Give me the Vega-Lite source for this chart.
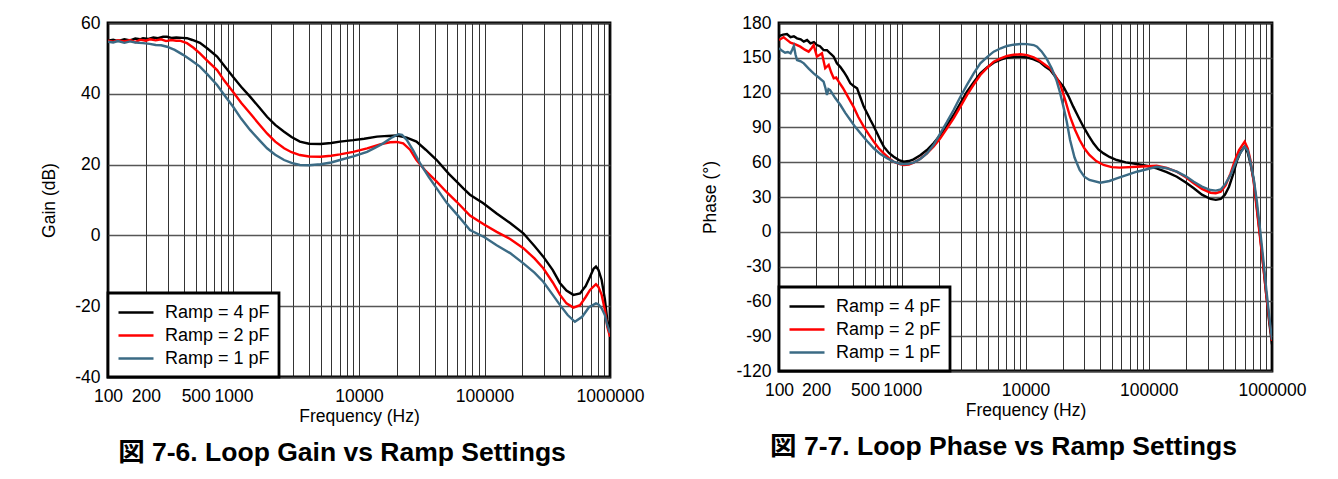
{
  "$schema": "https://vega.github.io/schema/vega-lite/v6.json",
  "background": "white",
  "padding": {"left": 39, "top": 12, "right": 0, "bottom": 0},
  "spacing": 54,
  "config": {
    "font": "Liberation Sans, Arial, Noto Sans CJK JP, sans-serif",
    "view": {"stroke": "black", "strokeWidth": 2.8},
    "axis": {
      "grid": true,
      "ticks": false,
      "domain": false,
      "labelFontSize": 17.5,
      "labelColor": "black",
      "titleFontSize": 17.5,
      "titleFontWeight": "normal",
      "titleColor": "black",
      "labelOverlap": false,
      "labelFlush": false
    },
    "axisX": {"gridColor": "#111111", "gridWidth": 1, "gridOpacity": 0.85, "labelPadding": 10, "titlePadding": 3},
    "axisY": {"gridColor": "#444444", "gridWidth": 1.3, "gridOpacity": 0.9, "labelPadding": 8, "titlePadding": 16},
    "legend": {
      "orient": "bottom-left",
      "offset": 0,
      "strokeColor": "black",
      "strokeWidth": 2.8,
      "fillColor": "white",
      "padding": 9,
      "labelFontSize": 18,
      "labelColor": "black",
      "symbolType": "M-1,0H2.889",
      "symbolSize": 324,
      "symbolStrokeWidth": 2.8,
      "labelOffset": 27,
      "rowPadding": 3
    },
    "line": {"strokeWidth": 2.4}
  },
  "datasets": {
    "gain": [
      {"f":100,"v":55.0,"s":"Ramp = 4 pF"},{"f":110,"v":55.3,"s":"Ramp = 4 pF"},{"f":120,"v":54.9,"s":"Ramp = 4 pF"},{"f":135,"v":55.4,"s":"Ramp = 4 pF"},{"f":150,"v":55.1,"s":"Ramp = 4 pF"},{"f":165,"v":55.6,"s":"Ramp = 4 pF"},{"f":180,"v":55.4,"s":"Ramp = 4 pF"},{"f":190,"v":55.7,"s":"Ramp = 4 pF"},{"f":210,"v":55.5,"s":"Ramp = 4 pF"},{"f":230,"v":55.9,"s":"Ramp = 4 pF"},{"f":250,"v":55.7,"s":"Ramp = 4 pF"},{"f":275,"v":56.1,"s":"Ramp = 4 pF"},{"f":295,"v":56.1,"s":"Ramp = 4 pF"},{"f":320,"v":55.8,"s":"Ramp = 4 pF"},{"f":350,"v":55.9,"s":"Ramp = 4 pF"},{"f":390,"v":55.8,"s":"Ramp = 4 pF"},{"f":426,"v":55.7,"s":"Ramp = 4 pF"},{"f":470,"v":55.2,"s":"Ramp = 4 pF"},{"f":540,"v":54.4,"s":"Ramp = 4 pF"},{"f":620,"v":52.8,"s":"Ramp = 4 pF"},{"f":740,"v":50.5,"s":"Ramp = 4 pF"},{"f":850,"v":47.8,"s":"Ramp = 4 pF"},{"f":990,"v":44.8,"s":"Ramp = 4 pF"},{"f":1150,"v":42.0,"s":"Ramp = 4 pF"},{"f":1355,"v":39.2,"s":"Ramp = 4 pF"},{"f":1600,"v":36.2,"s":"Ramp = 4 pF"},{"f":1850,"v":33.5,"s":"Ramp = 4 pF"},{"f":2150,"v":31.2,"s":"Ramp = 4 pF"},{"f":2530,"v":29.3,"s":"Ramp = 4 pF"},{"f":2900,"v":27.8,"s":"Ramp = 4 pF"},{"f":3380,"v":26.5,"s":"Ramp = 4 pF"},{"f":4000,"v":25.9,"s":"Ramp = 4 pF"},{"f":4940,"v":25.8,"s":"Ramp = 4 pF"},{"f":6000,"v":26.1,"s":"Ramp = 4 pF"},{"f":7050,"v":26.5,"s":"Ramp = 4 pF"},{"f":9000,"v":26.9,"s":"Ramp = 4 pF"},{"f":11000,"v":27.3,"s":"Ramp = 4 pF"},{"f":13900,"v":27.9,"s":"Ramp = 4 pF"},{"f":17000,"v":28.1,"s":"Ramp = 4 pF"},{"f":20000,"v":28.2,"s":"Ramp = 4 pF"},{"f":24000,"v":27.6,"s":"Ramp = 4 pF"},{"f":28700,"v":26.5,"s":"Ramp = 4 pF"},{"f":34000,"v":24.2,"s":"Ramp = 4 pF"},{"f":41600,"v":21.3,"s":"Ramp = 4 pF"},{"f":52000,"v":17.4,"s":"Ramp = 4 pF"},{"f":60000,"v":15.2,"s":"Ramp = 4 pF"},{"f":67800,"v":13.3,"s":"Ramp = 4 pF"},{"f":76600,"v":11.5,"s":"Ramp = 4 pF"},{"f":97800,"v":9.1,"s":"Ramp = 4 pF"},{"f":125000,"v":6.2,"s":"Ramp = 4 pF"},{"f":160000,"v":3.5,"s":"Ramp = 4 pF"},{"f":204000,"v":0.6,"s":"Ramp = 4 pF"},{"f":250000,"v":-3.0,"s":"Ramp = 4 pF"},{"f":294000,"v":-6.0,"s":"Ramp = 4 pF"},{"f":350000,"v":-9.8,"s":"Ramp = 4 pF"},{"f":400000,"v":-13.5,"s":"Ramp = 4 pF"},{"f":450000,"v":-15.6,"s":"Ramp = 4 pF"},{"f":511000,"v":-16.8,"s":"Ramp = 4 pF"},{"f":577000,"v":-16.4,"s":"Ramp = 4 pF"},{"f":640000,"v":-14.3,"s":"Ramp = 4 pF"},{"f":693000,"v":-11.7,"s":"Ramp = 4 pF"},{"f":740000,"v":-9.4,"s":"Ramp = 4 pF"},{"f":773000,"v":-8.8,"s":"Ramp = 4 pF"},{"f":810000,"v":-9.8,"s":"Ramp = 4 pF"},{"f":858000,"v":-12.6,"s":"Ramp = 4 pF"},{"f":910000,"v":-18.0,"s":"Ramp = 4 pF"},{"f":951000,"v":-23.9,"s":"Ramp = 4 pF"},{"f":1000000,"v":-27.6,"s":"Ramp = 4 pF"},
      {"f":100,"v":55.0,"s":"Ramp = 2 pF"},{"f":110,"v":54.7,"s":"Ramp = 2 pF"},{"f":120,"v":55.1,"s":"Ramp = 2 pF"},{"f":135,"v":54.8,"s":"Ramp = 2 pF"},{"f":150,"v":55.2,"s":"Ramp = 2 pF"},{"f":165,"v":54.6,"s":"Ramp = 2 pF"},{"f":180,"v":55.3,"s":"Ramp = 2 pF"},{"f":200,"v":55.0,"s":"Ramp = 2 pF"},{"f":216,"v":55.4,"s":"Ramp = 2 pF"},{"f":240,"v":55.1,"s":"Ramp = 2 pF"},{"f":265,"v":55.4,"s":"Ramp = 2 pF"},{"f":290,"v":54.9,"s":"Ramp = 2 pF"},{"f":320,"v":55.2,"s":"Ramp = 2 pF"},{"f":350,"v":55.0,"s":"Ramp = 2 pF"},{"f":374,"v":55.0,"s":"Ramp = 2 pF"},{"f":426,"v":54.3,"s":"Ramp = 2 pF"},{"f":480,"v":53.0,"s":"Ramp = 2 pF"},{"f":540,"v":51.4,"s":"Ramp = 2 pF"},{"f":620,"v":49.3,"s":"Ramp = 2 pF"},{"f":740,"v":46.7,"s":"Ramp = 2 pF"},{"f":850,"v":43.6,"s":"Ramp = 2 pF"},{"f":990,"v":40.6,"s":"Ramp = 2 pF"},{"f":1150,"v":37.5,"s":"Ramp = 2 pF"},{"f":1355,"v":34.5,"s":"Ramp = 2 pF"},{"f":1600,"v":31.4,"s":"Ramp = 2 pF"},{"f":1850,"v":28.8,"s":"Ramp = 2 pF"},{"f":2150,"v":26.5,"s":"Ramp = 2 pF"},{"f":2530,"v":24.6,"s":"Ramp = 2 pF"},{"f":2900,"v":23.5,"s":"Ramp = 2 pF"},{"f":3380,"v":22.7,"s":"Ramp = 2 pF"},{"f":4000,"v":22.3,"s":"Ramp = 2 pF"},{"f":4940,"v":22.2,"s":"Ramp = 2 pF"},{"f":6000,"v":22.5,"s":"Ramp = 2 pF"},{"f":7050,"v":22.9,"s":"Ramp = 2 pF"},{"f":9000,"v":23.6,"s":"Ramp = 2 pF"},{"f":11600,"v":24.6,"s":"Ramp = 2 pF"},{"f":14700,"v":25.7,"s":"Ramp = 2 pF"},{"f":17700,"v":26.3,"s":"Ramp = 2 pF"},{"f":20000,"v":26.4,"s":"Ramp = 2 pF"},{"f":22500,"v":26.0,"s":"Ramp = 2 pF"},{"f":25500,"v":24.2,"s":"Ramp = 2 pF"},{"f":28700,"v":21.3,"s":"Ramp = 2 pF"},{"f":34000,"v":18.2,"s":"Ramp = 2 pF"},{"f":41600,"v":15.2,"s":"Ramp = 2 pF"},{"f":50000,"v":12.2,"s":"Ramp = 2 pF"},{"f":60000,"v":9.5,"s":"Ramp = 2 pF"},{"f":76600,"v":5.6,"s":"Ramp = 2 pF"},{"f":100000,"v":3.0,"s":"Ramp = 2 pF"},{"f":125000,"v":1.0,"s":"Ramp = 2 pF"},{"f":160000,"v":-1.0,"s":"Ramp = 2 pF"},{"f":204000,"v":-3.6,"s":"Ramp = 2 pF"},{"f":250000,"v":-6.5,"s":"Ramp = 2 pF"},{"f":294000,"v":-9.3,"s":"Ramp = 2 pF"},{"f":350000,"v":-13.3,"s":"Ramp = 2 pF"},{"f":400000,"v":-16.8,"s":"Ramp = 2 pF"},{"f":450000,"v":-19.2,"s":"Ramp = 2 pF"},{"f":511000,"v":-20.4,"s":"Ramp = 2 pF"},{"f":577000,"v":-19.7,"s":"Ramp = 2 pF"},{"f":640000,"v":-17.4,"s":"Ramp = 2 pF"},{"f":693000,"v":-15.4,"s":"Ramp = 2 pF"},{"f":773000,"v":-13.8,"s":"Ramp = 2 pF"},{"f":810000,"v":-14.6,"s":"Ramp = 2 pF"},{"f":858000,"v":-16.8,"s":"Ramp = 2 pF"},{"f":910000,"v":-21.0,"s":"Ramp = 2 pF"},{"f":951000,"v":-25.8,"s":"Ramp = 2 pF"},{"f":1000000,"v":-28.6,"s":"Ramp = 2 pF"},
      {"f":100,"v":54.7,"s":"Ramp = 1 pF"},{"f":110,"v":54.5,"s":"Ramp = 1 pF"},{"f":120,"v":54.9,"s":"Ramp = 1 pF"},{"f":135,"v":54.4,"s":"Ramp = 1 pF"},{"f":150,"v":54.8,"s":"Ramp = 1 pF"},{"f":165,"v":54.5,"s":"Ramp = 1 pF"},{"f":190,"v":54.3,"s":"Ramp = 1 pF"},{"f":215,"v":54.1,"s":"Ramp = 1 pF"},{"f":240,"v":53.8,"s":"Ramp = 1 pF"},{"f":265,"v":53.7,"s":"Ramp = 1 pF"},{"f":295,"v":53.3,"s":"Ramp = 1 pF"},{"f":340,"v":52.4,"s":"Ramp = 1 pF"},{"f":397,"v":51.0,"s":"Ramp = 1 pF"},{"f":460,"v":49.5,"s":"Ramp = 1 pF"},{"f":540,"v":47.7,"s":"Ramp = 1 pF"},{"f":620,"v":45.5,"s":"Ramp = 1 pF"},{"f":740,"v":42.5,"s":"Ramp = 1 pF"},{"f":850,"v":39.5,"s":"Ramp = 1 pF"},{"f":990,"v":36.4,"s":"Ramp = 1 pF"},{"f":1150,"v":33.0,"s":"Ramp = 1 pF"},{"f":1355,"v":29.8,"s":"Ramp = 1 pF"},{"f":1600,"v":27.0,"s":"Ramp = 1 pF"},{"f":1850,"v":24.6,"s":"Ramp = 1 pF"},{"f":2150,"v":22.8,"s":"Ramp = 1 pF"},{"f":2530,"v":21.3,"s":"Ramp = 1 pF"},{"f":2900,"v":20.5,"s":"Ramp = 1 pF"},{"f":3380,"v":19.9,"s":"Ramp = 1 pF"},{"f":4000,"v":19.8,"s":"Ramp = 1 pF"},{"f":4940,"v":20.1,"s":"Ramp = 1 pF"},{"f":6000,"v":20.6,"s":"Ramp = 1 pF"},{"f":7050,"v":21.3,"s":"Ramp = 1 pF"},{"f":9000,"v":22.3,"s":"Ramp = 1 pF"},{"f":11600,"v":23.6,"s":"Ramp = 1 pF"},{"f":13500,"v":24.8,"s":"Ramp = 1 pF"},{"f":15600,"v":26.0,"s":"Ramp = 1 pF"},{"f":18000,"v":27.5,"s":"Ramp = 1 pF"},{"f":20600,"v":28.6,"s":"Ramp = 1 pF"},{"f":22000,"v":28.4,"s":"Ramp = 1 pF"},{"f":24000,"v":27.0,"s":"Ramp = 1 pF"},{"f":27000,"v":24.0,"s":"Ramp = 1 pF"},{"f":30600,"v":20.4,"s":"Ramp = 1 pF"},{"f":36000,"v":16.5,"s":"Ramp = 1 pF"},{"f":41600,"v":13.3,"s":"Ramp = 1 pF"},{"f":50000,"v":9.2,"s":"Ramp = 1 pF"},{"f":60000,"v":6.0,"s":"Ramp = 1 pF"},{"f":67800,"v":3.8,"s":"Ramp = 1 pF"},{"f":76600,"v":1.5,"s":"Ramp = 1 pF"},{"f":100000,"v":-0.5,"s":"Ramp = 1 pF"},{"f":125000,"v":-2.8,"s":"Ramp = 1 pF"},{"f":160000,"v":-5.0,"s":"Ramp = 1 pF"},{"f":204000,"v":-7.9,"s":"Ramp = 1 pF"},{"f":250000,"v":-10.5,"s":"Ramp = 1 pF"},{"f":294000,"v":-13.1,"s":"Ramp = 1 pF"},{"f":350000,"v":-16.8,"s":"Ramp = 1 pF"},{"f":400000,"v":-19.7,"s":"Ramp = 1 pF"},{"f":460000,"v":-22.5,"s":"Ramp = 1 pF"},{"f":525000,"v":-24.4,"s":"Ramp = 1 pF"},{"f":600000,"v":-23.0,"s":"Ramp = 1 pF"},{"f":680000,"v":-20.3,"s":"Ramp = 1 pF"},{"f":773000,"v":-19.2,"s":"Ramp = 1 pF"},{"f":810000,"v":-19.5,"s":"Ramp = 1 pF"},{"f":858000,"v":-20.6,"s":"Ramp = 1 pF"},{"f":910000,"v":-22.5,"s":"Ramp = 1 pF"},{"f":951000,"v":-25.3,"s":"Ramp = 1 pF"},{"f":1000000,"v":-27.6,"s":"Ramp = 1 pF"}
    ],
    "phase": [
      {"f":100,"v":168.8,"s":"Ramp = 4 pF"},{"f":108,"v":170.0,"s":"Ramp = 4 pF"},{"f":116,"v":170.5,"s":"Ramp = 4 pF"},{"f":124,"v":167.8,"s":"Ramp = 4 pF"},{"f":132,"v":168.5,"s":"Ramp = 4 pF"},{"f":140,"v":166.8,"s":"Ramp = 4 pF"},{"f":150,"v":166.0,"s":"Ramp = 4 pF"},{"f":159,"v":163.9,"s":"Ramp = 4 pF"},{"f":169,"v":165.3,"s":"Ramp = 4 pF"},{"f":180,"v":162.5,"s":"Ramp = 4 pF"},{"f":192,"v":163.5,"s":"Ramp = 4 pF"},{"f":203,"v":161.0,"s":"Ramp = 4 pF"},{"f":215,"v":160.0,"s":"Ramp = 4 pF"},{"f":230,"v":156.7,"s":"Ramp = 4 pF"},{"f":245,"v":156.5,"s":"Ramp = 4 pF"},{"f":262,"v":153.5,"s":"Ramp = 4 pF"},{"f":278,"v":151.0,"s":"Ramp = 4 pF"},{"f":295,"v":145.2,"s":"Ramp = 4 pF"},{"f":315,"v":142.0,"s":"Ramp = 4 pF"},{"f":335,"v":138.0,"s":"Ramp = 4 pF"},{"f":356,"v":133.5,"s":"Ramp = 4 pF"},{"f":379,"v":128.0,"s":"Ramp = 4 pF"},{"f":405,"v":125.5,"s":"Ramp = 4 pF"},{"f":430,"v":123.7,"s":"Ramp = 4 pF"},{"f":457,"v":116.0,"s":"Ramp = 4 pF"},{"f":487,"v":107.9,"s":"Ramp = 4 pF"},{"f":520,"v":102.0,"s":"Ramp = 4 pF"},{"f":552,"v":96.4,"s":"Ramp = 4 pF"},{"f":587,"v":91.0,"s":"Ramp = 4 pF"},{"f":625,"v":84.9,"s":"Ramp = 4 pF"},{"f":665,"v":79.0,"s":"Ramp = 4 pF"},{"f":708,"v":73.4,"s":"Ramp = 4 pF"},{"f":780,"v":68.0,"s":"Ramp = 4 pF"},{"f":852,"v":64.7,"s":"Ramp = 4 pF"},{"f":940,"v":61.8,"s":"Ramp = 4 pF"},{"f":1028,"v":60.4,"s":"Ramp = 4 pF"},{"f":1130,"v":61.0,"s":"Ramp = 4 pF"},{"f":1236,"v":62.5,"s":"Ramp = 4 pF"},{"f":1400,"v":66.0,"s":"Ramp = 4 pF"},{"f":1586,"v":70.5,"s":"Ramp = 4 pF"},{"f":1800,"v":76.5,"s":"Ramp = 4 pF"},{"f":2035,"v":83.4,"s":"Ramp = 4 pF"},{"f":2300,"v":91.5,"s":"Ramp = 4 pF"},{"f":2610,"v":100.7,"s":"Ramp = 4 pF"},{"f":2950,"v":110.5,"s":"Ramp = 4 pF"},{"f":3350,"v":120.8,"s":"Ramp = 4 pF"},{"f":3800,"v":129.0,"s":"Ramp = 4 pF"},{"f":4300,"v":136.6,"s":"Ramp = 4 pF"},{"f":4900,"v":141.8,"s":"Ramp = 4 pF"},{"f":5520,"v":145.8,"s":"Ramp = 4 pF"},{"f":6300,"v":148.5,"s":"Ramp = 4 pF"},{"f":7080,"v":150.1,"s":"Ramp = 4 pF"},{"f":8000,"v":150.7,"s":"Ramp = 4 pF"},{"f":9080,"v":151.0,"s":"Ramp = 4 pF"},{"f":10300,"v":150.3,"s":"Ramp = 4 pF"},{"f":11650,"v":148.7,"s":"Ramp = 4 pF"},{"f":13000,"v":146.5,"s":"Ramp = 4 pF"},{"f":14500,"v":142.3,"s":"Ramp = 4 pF"},{"f":15870,"v":139.5,"s":"Ramp = 4 pF"},{"f":18000,"v":132.0,"s":"Ramp = 4 pF"},{"f":20300,"v":125.1,"s":"Ramp = 4 pF"},{"f":22300,"v":117.0,"s":"Ramp = 4 pF"},{"f":24400,"v":107.9,"s":"Ramp = 4 pF"},{"f":27000,"v":98.5,"s":"Ramp = 4 pF"},{"f":29500,"v":90.6,"s":"Ramp = 4 pF"},{"f":32500,"v":83.0,"s":"Ramp = 4 pF"},{"f":35600,"v":76.3,"s":"Ramp = 4 pF"},{"f":39000,"v":71.0,"s":"Ramp = 4 pF"},{"f":43000,"v":67.6,"s":"Ramp = 4 pF"},{"f":48000,"v":64.5,"s":"Ramp = 4 pF"},{"f":55000,"v":61.9,"s":"Ramp = 4 pF"},{"f":65000,"v":59.8,"s":"Ramp = 4 pF"},{"f":80000,"v":58.4,"s":"Ramp = 4 pF"},{"f":100000,"v":56.5,"s":"Ramp = 4 pF"},{"f":116000,"v":54.7,"s":"Ramp = 4 pF"},{"f":140000,"v":51.5,"s":"Ramp = 4 pF"},{"f":169000,"v":47.5,"s":"Ramp = 4 pF"},{"f":200000,"v":42.5,"s":"Ramp = 4 pF"},{"f":232000,"v":37.5,"s":"Ramp = 4 pF"},{"f":270000,"v":32.0,"s":"Ramp = 4 pF"},{"f":317000,"v":28.3,"s":"Ramp = 4 pF"},{"f":350000,"v":27.5,"s":"Ramp = 4 pF"},{"f":384000,"v":28.3,"s":"Ramp = 4 pF"},{"f":415000,"v":32.0,"s":"Ramp = 4 pF"},{"f":448000,"v":38.9,"s":"Ramp = 4 pF"},{"f":485000,"v":50.0,"s":"Ramp = 4 pF"},{"f":522000,"v":61.9,"s":"Ramp = 4 pF"},{"f":560000,"v":69.5,"s":"Ramp = 4 pF"},{"f":600000,"v":73.4,"s":"Ramp = 4 pF"},{"f":635000,"v":68.5,"s":"Ramp = 4 pF"},{"f":668000,"v":59.0,"s":"Ramp = 4 pF"},{"f":710000,"v":44.7,"s":"Ramp = 4 pF"},{"f":755000,"v":20.5,"s":"Ramp = 4 pF"},{"f":800000,"v":-3.0,"s":"Ramp = 4 pF"},{"f":850000,"v":-29.0,"s":"Ramp = 4 pF"},{"f":900000,"v":-55.0,"s":"Ramp = 4 pF"},{"f":950000,"v":-78.0,"s":"Ramp = 4 pF"},{"f":1000000,"v":-97.0,"s":"Ramp = 4 pF"},
      {"f":100,"v":165.3,"s":"Ramp = 2 pF"},{"f":109,"v":167.7,"s":"Ramp = 2 pF"},{"f":116,"v":165.5,"s":"Ramp = 2 pF"},{"f":124,"v":163.0,"s":"Ramp = 2 pF"},{"f":136,"v":161.5,"s":"Ramp = 2 pF"},{"f":149,"v":159.6,"s":"Ramp = 2 pF"},{"f":162,"v":157.0,"s":"Ramp = 2 pF"},{"f":174,"v":155.3,"s":"Ramp = 2 pF"},{"f":183,"v":158.0,"s":"Ramp = 2 pF"},{"f":191,"v":161.0,"s":"Ramp = 2 pF"},{"f":203,"v":151.0,"s":"Ramp = 2 pF"},{"f":213,"v":152.5,"s":"Ramp = 2 pF"},{"f":223,"v":153.9,"s":"Ramp = 2 pF"},{"f":237,"v":141.0,"s":"Ramp = 2 pF"},{"f":253,"v":143.9,"s":"Ramp = 2 pF"},{"f":265,"v":137.5,"s":"Ramp = 2 pF"},{"f":278,"v":132.3,"s":"Ramp = 2 pF"},{"f":291,"v":133.0,"s":"Ramp = 2 pF"},{"f":305,"v":129.4,"s":"Ramp = 2 pF"},{"f":330,"v":124.0,"s":"Ramp = 2 pF"},{"f":356,"v":117.9,"s":"Ramp = 2 pF"},{"f":380,"v":112.5,"s":"Ramp = 2 pF"},{"f":402,"v":107.9,"s":"Ramp = 2 pF"},{"f":440,"v":99.0,"s":"Ramp = 2 pF"},{"f":487,"v":90.6,"s":"Ramp = 2 pF"},{"f":535,"v":84.0,"s":"Ramp = 2 pF"},{"f":587,"v":77.7,"s":"Ramp = 2 pF"},{"f":645,"v":72.0,"s":"Ramp = 2 pF"},{"f":708,"v":67.6,"s":"Ramp = 2 pF"},{"f":780,"v":63.5,"s":"Ramp = 2 pF"},{"f":852,"v":60.4,"s":"Ramp = 2 pF"},{"f":940,"v":58.5,"s":"Ramp = 2 pF"},{"f":1028,"v":57.6,"s":"Ramp = 2 pF"},{"f":1130,"v":58.0,"s":"Ramp = 2 pF"},{"f":1236,"v":59.6,"s":"Ramp = 2 pF"},{"f":1400,"v":63.0,"s":"Ramp = 2 pF"},{"f":1586,"v":67.6,"s":"Ramp = 2 pF"},{"f":1800,"v":73.5,"s":"Ramp = 2 pF"},{"f":2035,"v":80.6,"s":"Ramp = 2 pF"},{"f":2300,"v":89.0,"s":"Ramp = 2 pF"},{"f":2610,"v":97.8,"s":"Ramp = 2 pF"},{"f":2950,"v":107.5,"s":"Ramp = 2 pF"},{"f":3350,"v":117.9,"s":"Ramp = 2 pF"},{"f":3800,"v":127.0,"s":"Ramp = 2 pF"},{"f":4300,"v":135.2,"s":"Ramp = 2 pF"},{"f":4900,"v":141.5,"s":"Ramp = 2 pF"},{"f":5520,"v":146.6,"s":"Ramp = 2 pF"},{"f":6300,"v":149.5,"s":"Ramp = 2 pF"},{"f":7080,"v":151.6,"s":"Ramp = 2 pF"},{"f":8000,"v":152.6,"s":"Ramp = 2 pF"},{"f":9080,"v":153.0,"s":"Ramp = 2 pF"},{"f":10300,"v":152.3,"s":"Ramp = 2 pF"},{"f":11650,"v":150.4,"s":"Ramp = 2 pF"},{"f":13000,"v":147.5,"s":"Ramp = 2 pF"},{"f":14500,"v":143.8,"s":"Ramp = 2 pF"},{"f":15870,"v":140.9,"s":"Ramp = 2 pF"},{"f":17500,"v":134.5,"s":"Ramp = 2 pF"},{"f":19200,"v":126.6,"s":"Ramp = 2 pF"},{"f":21000,"v":113.5,"s":"Ramp = 2 pF"},{"f":23000,"v":99.2,"s":"Ramp = 2 pF"},{"f":25200,"v":88.0,"s":"Ramp = 2 pF"},{"f":27500,"v":79.1,"s":"Ramp = 2 pF"},{"f":30000,"v":72.0,"s":"Ramp = 2 pF"},{"f":33000,"v":66.2,"s":"Ramp = 2 pF"},{"f":37500,"v":61.0,"s":"Ramp = 2 pF"},{"f":43000,"v":57.6,"s":"Ramp = 2 pF"},{"f":50000,"v":55.8,"s":"Ramp = 2 pF"},{"f":58000,"v":55.3,"s":"Ramp = 2 pF"},{"f":80000,"v":56.1,"s":"Ramp = 2 pF"},{"f":116000,"v":57.0,"s":"Ramp = 2 pF"},{"f":140000,"v":55.0,"s":"Ramp = 2 pF"},{"f":169000,"v":51.8,"s":"Ramp = 2 pF"},{"f":200000,"v":47.0,"s":"Ramp = 2 pF"},{"f":232000,"v":41.8,"s":"Ramp = 2 pF"},{"f":270000,"v":37.0,"s":"Ramp = 2 pF"},{"f":317000,"v":33.7,"s":"Ramp = 2 pF"},{"f":350000,"v":33.3,"s":"Ramp = 2 pF"},{"f":384000,"v":34.5,"s":"Ramp = 2 pF"},{"f":420000,"v":40.0,"s":"Ramp = 2 pF"},{"f":461000,"v":50.4,"s":"Ramp = 2 pF"},{"f":500000,"v":61.5,"s":"Ramp = 2 pF"},{"f":540000,"v":70.5,"s":"Ramp = 2 pF"},{"f":600000,"v":77.7,"s":"Ramp = 2 pF"},{"f":635000,"v":72.0,"s":"Ramp = 2 pF"},{"f":668000,"v":61.9,"s":"Ramp = 2 pF"},{"f":710000,"v":43.0,"s":"Ramp = 2 pF"},{"f":754000,"v":18.8,"s":"Ramp = 2 pF"},{"f":800000,"v":-5.0,"s":"Ramp = 2 pF"},{"f":850000,"v":-30.0,"s":"Ramp = 2 pF"},{"f":900000,"v":-55.0,"s":"Ramp = 2 pF"},{"f":950000,"v":-76.0,"s":"Ramp = 2 pF"},{"f":1000000,"v":-94.0,"s":"Ramp = 2 pF"},
      {"f":100,"v":158.2,"s":"Ramp = 1 pF"},{"f":106,"v":156.0,"s":"Ramp = 1 pF"},{"f":112,"v":154.4,"s":"Ramp = 1 pF"},{"f":118,"v":155.0,"s":"Ramp = 1 pF"},{"f":124,"v":153.9,"s":"Ramp = 1 pF"},{"f":128,"v":157.0,"s":"Ramp = 1 pF"},{"f":132,"v":160.2,"s":"Ramp = 1 pF"},{"f":136,"v":153.0,"s":"Ramp = 1 pF"},{"f":140,"v":148.1,"s":"Ramp = 1 pF"},{"f":150,"v":147.0,"s":"Ramp = 1 pF"},{"f":159,"v":145.2,"s":"Ramp = 1 pF"},{"f":175,"v":140.5,"s":"Ramp = 1 pF"},{"f":191,"v":136.6,"s":"Ramp = 1 pF"},{"f":210,"v":133.0,"s":"Ramp = 1 pF"},{"f":230,"v":129.4,"s":"Ramp = 1 pF"},{"f":238,"v":124.0,"s":"Ramp = 1 pF"},{"f":245,"v":117.9,"s":"Ramp = 1 pF"},{"f":252,"v":123.0,"s":"Ramp = 1 pF"},{"f":260,"v":122.2,"s":"Ramp = 1 pF"},{"f":285,"v":115.5,"s":"Ramp = 1 pF"},{"f":315,"v":109.3,"s":"Ramp = 1 pF"},{"f":345,"v":102.5,"s":"Ramp = 1 pF"},{"f":379,"v":96.4,"s":"Ramp = 1 pF"},{"f":415,"v":90.5,"s":"Ramp = 1 pF"},{"f":458,"v":84.9,"s":"Ramp = 1 pF"},{"f":520,"v":78.0,"s":"Ramp = 1 pF"},{"f":587,"v":72.0,"s":"Ramp = 1 pF"},{"f":665,"v":67.0,"s":"Ramp = 1 pF"},{"f":752,"v":63.4,"s":"Ramp = 1 pF"},{"f":850,"v":60.5,"s":"Ramp = 1 pF"},{"f":965,"v":58.4,"s":"Ramp = 1 pF"},{"f":1100,"v":58.4,"s":"Ramp = 1 pF"},{"f":1236,"v":59.6,"s":"Ramp = 1 pF"},{"f":1400,"v":62.8,"s":"Ramp = 1 pF"},{"f":1586,"v":67.6,"s":"Ramp = 1 pF"},{"f":1800,"v":75.0,"s":"Ramp = 1 pF"},{"f":2035,"v":84.9,"s":"Ramp = 1 pF"},{"f":2300,"v":94.5,"s":"Ramp = 1 pF"},{"f":2610,"v":105.0,"s":"Ramp = 1 pF"},{"f":2950,"v":116.0,"s":"Ramp = 1 pF"},{"f":3350,"v":126.6,"s":"Ramp = 1 pF"},{"f":3800,"v":136.5,"s":"Ramp = 1 pF"},{"f":4300,"v":145.2,"s":"Ramp = 1 pF"},{"f":4900,"v":150.8,"s":"Ramp = 1 pF"},{"f":5520,"v":155.3,"s":"Ramp = 1 pF"},{"f":6300,"v":158.2,"s":"Ramp = 1 pF"},{"f":7080,"v":160.2,"s":"Ramp = 1 pF"},{"f":8000,"v":161.3,"s":"Ramp = 1 pF"},{"f":9080,"v":161.9,"s":"Ramp = 1 pF"},{"f":10300,"v":161.8,"s":"Ramp = 1 pF"},{"f":11650,"v":161.0,"s":"Ramp = 1 pF"},{"f":12400,"v":159.6,"s":"Ramp = 1 pF"},{"f":13500,"v":155.5,"s":"Ramp = 1 pF"},{"f":14800,"v":149.5,"s":"Ramp = 1 pF"},{"f":16300,"v":141.0,"s":"Ramp = 1 pF"},{"f":17800,"v":130.9,"s":"Ramp = 1 pF"},{"f":19000,"v":120.5,"s":"Ramp = 1 pF"},{"f":20300,"v":107.9,"s":"Ramp = 1 pF"},{"f":21600,"v":95.0,"s":"Ramp = 1 pF"},{"f":23000,"v":79.1,"s":"Ramp = 1 pF"},{"f":25000,"v":64.0,"s":"Ramp = 1 pF"},{"f":27500,"v":53.3,"s":"Ramp = 1 pF"},{"f":30000,"v":47.5,"s":"Ramp = 1 pF"},{"f":33000,"v":44.7,"s":"Ramp = 1 pF"},{"f":40500,"v":42.3,"s":"Ramp = 1 pF"},{"f":48000,"v":43.8,"s":"Ramp = 1 pF"},{"f":55000,"v":46.1,"s":"Ramp = 1 pF"},{"f":80000,"v":51.8,"s":"Ramp = 1 pF"},{"f":116000,"v":56.1,"s":"Ramp = 1 pF"},{"f":140000,"v":54.8,"s":"Ramp = 1 pF"},{"f":169000,"v":51.8,"s":"Ramp = 1 pF"},{"f":200000,"v":47.8,"s":"Ramp = 1 pF"},{"f":232000,"v":43.2,"s":"Ramp = 1 pF"},{"f":270000,"v":39.0,"s":"Ramp = 1 pF"},{"f":317000,"v":36.0,"s":"Ramp = 1 pF"},{"f":350000,"v":35.5,"s":"Ramp = 1 pF"},{"f":384000,"v":36.5,"s":"Ramp = 1 pF"},{"f":420000,"v":41.5,"s":"Ramp = 1 pF"},{"f":461000,"v":49.0,"s":"Ramp = 1 pF"},{"f":500000,"v":58.0,"s":"Ramp = 1 pF"},{"f":540000,"v":66.2,"s":"Ramp = 1 pF"},{"f":600000,"v":73.4,"s":"Ramp = 1 pF"},{"f":635000,"v":70.0,"s":"Ramp = 1 pF"},{"f":668000,"v":60.4,"s":"Ramp = 1 pF"},{"f":710000,"v":46.0,"s":"Ramp = 1 pF"},{"f":754000,"v":25.9,"s":"Ramp = 1 pF"},{"f":800000,"v":2.0,"s":"Ramp = 1 pF"},{"f":850000,"v":-24.0,"s":"Ramp = 1 pF"},{"f":900000,"v":-50.0,"s":"Ramp = 1 pF"},{"f":950000,"v":-73.0,"s":"Ramp = 1 pF"},{"f":1000000,"v":-93.0,"s":"Ramp = 1 pF"}
    ]
  },
  "hconcat": [
    {
      "width": 502,
      "height": 354,
      "data": {"name": "gain"},
      "title": {"text": "図 7-6. Loop Gain vs Ramp Settings", "orient": "bottom", "fontSize": 26.5, "fontWeight": "bold", "color": "black", "offset": 15, "dx": -17},
      "mark": {"type": "line", "clip": true},
      "encoding": {
        "x": {
          "field": "f", "type": "quantitative",
          "scale": {"type": "log", "domain": [100, 1000000], "nice": false},
          "axis": {
            "title": "Frequency (Hz)",
            "values": [100,200,300,400,500,600,700,800,900,1000,2000,3000,4000,5000,6000,7000,8000,9000,10000,20000,30000,40000,50000,60000,70000,80000,90000,100000,200000,300000,400000,500000,600000,700000,800000,900000,1000000],
            "labelExpr": "indexof([100,200,500,1000,10000,100000,1000000], datum.value) >= 0 ? '' + datum.value : ''"
          }
        },
        "y": {
          "field": "v", "type": "quantitative",
          "scale": {"domain": [-40, 60], "nice": false},
          "axis": {"title": "Gain (dB)", "values": [-40,-20,0,20,40,60], "labelExpr": "'' + datum.value"}
        },
        "color": {
          "field": "s", "type": "nominal",
          "scale": {"domain": ["Ramp = 4 pF","Ramp = 2 pF","Ramp = 1 pF"], "range": ["#000000","#ff0000","#3b6b85"]},
          "legend": {"title": null}
        }
      }
    },
    {
      "width": 493,
      "height": 348,
      "data": {"name": "phase"},
      "title": {"text": "図 7-7. Loop Phase vs Ramp Settings", "orient": "bottom", "fontSize": 26.5, "fontWeight": "bold", "color": "black", "offset": 15, "dx": -22},
      "mark": {"type": "line", "clip": true},
      "encoding": {
        "x": {
          "field": "f", "type": "quantitative",
          "scale": {"type": "log", "domain": [100, 1000000], "nice": false},
          "axis": {
            "title": "Frequency (Hz)",
            "values": [100,200,300,400,500,600,700,800,900,1000,2000,3000,4000,5000,6000,7000,8000,9000,10000,20000,30000,40000,50000,60000,70000,80000,90000,100000,200000,300000,400000,500000,600000,700000,800000,900000,1000000],
            "labelExpr": "indexof([100,200,500,1000,10000,100000,1000000], datum.value) >= 0 ? '' + datum.value : ''"
          }
        },
        "y": {
          "field": "v", "type": "quantitative",
          "scale": {"domain": [-120, 180], "nice": false},
          "axis": {"title": "Phase (°)", "values": [-120,-90,-60,-30,0,30,60,90,120,150,180], "labelExpr": "'' + datum.value"}
        },
        "color": {
          "field": "s", "type": "nominal",
          "scale": {"domain": ["Ramp = 4 pF","Ramp = 2 pF","Ramp = 1 pF"], "range": ["#000000","#ff0000","#3b6b85"]},
          "legend": {"title": null}
        }
      }
    }
  ],
  "resolve": {"legend": {"color": "independent"}, "scale": {"color": "independent"}}
}
